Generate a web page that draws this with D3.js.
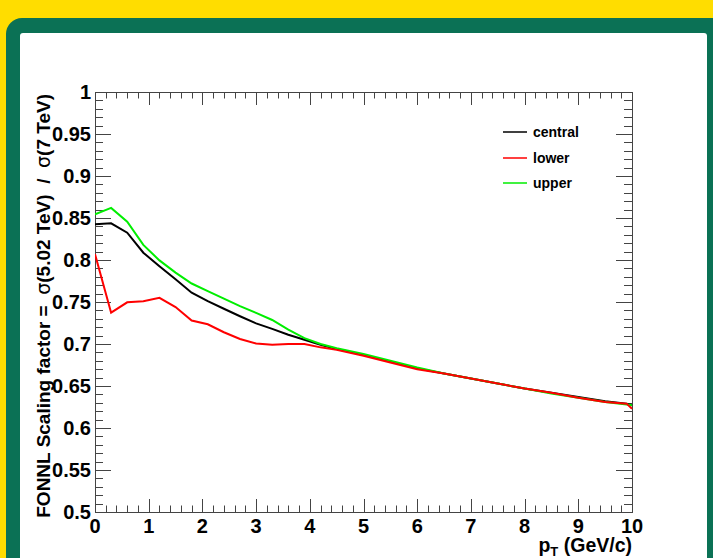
<!DOCTYPE html>
<html>
<head>
<meta charset="utf-8">
<script src="https://cdn.jsdelivr.net/npm/d3@7"></script>
<style>
  body { margin: 0; background: #ffdd00; }
  svg { display: block; }
</style>
</head>
<body>
<div id="chart"></div>
<script>
let width = 713,
    height = 558

// pT grid and the three FONLL ratio curves
let ptValues = [0, 0.3, 0.6, 0.9, 1.2, 1.5, 1.8, 2.1, 2.4, 2.7, 3.0, 3.3, 3.6, 3.9, 4.2, 4.5,
  5, 5.5, 6, 6.5, 7, 7.5, 8, 8.5, 9, 9.5, 9.9, 10];
let centralValues = [0.8425, 0.8437, 0.8325, 0.8087, 0.7925, 0.777, 0.761, 0.751, 0.742, 0.733,
  0.7245, 0.718, 0.711, 0.705, 0.699, 0.694, 0.687, 0.679, 0.671, 0.665, 0.659, 0.653, 0.647,
  0.642, 0.637, 0.632, 0.629, 0.627];
let lowerValues = [0.807, 0.7373, 0.7496, 0.751, 0.755, 0.744, 0.728, 0.7235, 0.714, 0.706,
  0.7005, 0.699, 0.7, 0.7, 0.696, 0.693, 0.686, 0.678, 0.670, 0.665, 0.659, 0.653, 0.647,
  0.642, 0.636, 0.631, 0.629, 0.623];
let upperValues = [0.8544, 0.862, 0.8456, 0.818, 0.7995, 0.785, 0.772, 0.763, 0.754, 0.745,
  0.737, 0.7286, 0.717, 0.707, 0.700, 0.695, 0.688, 0.680, 0.672, 0.665, 0.659, 0.653, 0.647,
  0.641, 0.636, 0.631, 0.628, 0.627];

let seriesNames = ["central", "lower", "upper"];
let seriesColors = ["#000000", "#ff0000", "#00ee00"];

let xTicks = [0, 1, 2, 3, 4, 5, 6, 7, 8, 9, 10];
let yTicks = [0.5, 0.55, 0.6, 0.65, 0.7, 0.75, 0.8, 0.85, 0.9, 0.95, 1];

let plot = {left: 95, right: 632, top: 92, bottom: 512};

let svg = d3.select("#chart")
  .append("svg")
    .attr("width", width)
    .attr("height", height);

// frame: yellow page, green rounded border, white pad
svg.append("rect").attr("width", width).attr("height", height).attr("fill", "#ffdd00");
svg.append("rect")
  .attr("x", 6).attr("y", 18).attr("width", 740).attr("height", 600)
  .attr("rx", 16).attr("fill", "#0b7155");
svg.append("rect")
  .attr("x", 20).attr("y", 33).attr("width", 687).attr("height", 600)
  .attr("rx", 3).attr("fill", "#ffffff");

let x = d3.scaleLinear().domain([0, 10]).range([plot.left, plot.right]);
let y = d3.scaleLinear().domain([0.5, 1]).range([plot.bottom, plot.top]);

let font = "'Liberation Sans', Arial, Helvetica, sans-serif";

// ticks (ROOT style: on all four sides, pointing inward)
let xMinor = d3.range(0, 50).map(i => i * 0.2).filter(v => Math.abs(v - Math.round(v)) > 1e-6);
let yMinor = d3.range(0, 50).map(i => 0.5 + i * 0.01).filter(v => Math.abs(v * 20 - Math.round(v * 20)) > 1e-6);

let axisG = svg.append("g").attr("stroke", "#444").attr("stroke-width", 1).attr("fill", "none");

function xTickLines(vals, len) {
  vals.forEach(v => {
    let px = Math.round(x(v)) + 0.5;
    axisG.append("line").attr("x1", px).attr("x2", px)
      .attr("y1", plot.bottom).attr("y2", plot.bottom - len);
    axisG.append("line").attr("x1", px).attr("x2", px)
      .attr("y1", plot.top).attr("y2", plot.top + len);
  });
}
function yTickLines(vals, len) {
  vals.forEach(v => {
    let py = Math.round(y(v)) + 0.5;
    axisG.append("line").attr("x1", plot.left).attr("x2", plot.left + len)
      .attr("y1", py).attr("y2", py);
    axisG.append("line").attr("x1", plot.right).attr("x2", plot.right - len)
      .attr("y1", py).attr("y2", py);
  });
}
xTickLines(xTicks, 13);
xTickLines(xMinor, 6.5);
yTickLines(yTicks, 16);
yTickLines(yMinor, 8);

axisG.append("rect")
  .attr("x", plot.left + 0.5).attr("y", plot.top + 0.5)
  .attr("width", plot.right - plot.left).attr("height", plot.bottom - plot.top);

// tick labels
svg.append("g").selectAll("text")
  .data(xTicks)
  .enter()
  .append("text")
    .attr("x", d => x(d))
    .attr("y", plot.bottom + 21)
    .attr("text-anchor", "middle")
    .style("font-family", font)
    .style("font-weight", "bold")
    .style("font-size", "20px")
    .text(d => d);

svg.append("g").selectAll("text")
  .data(yTicks)
  .enter()
  .append("text")
    .attr("x", plot.left - 4)
    .attr("y", d => y(d) + 7)
    .attr("text-anchor", "end")
    .style("font-family", font)
    .style("font-weight", "bold")
    .style("font-size", "20px")
    .text(d => d);

// axis titles
let xTitle = svg.append("text")
  .attr("x", plot.right)
  .attr("y", 552)
  .attr("text-anchor", "end")
  .style("font-family", font)
  .style("font-weight", "bold")
  .style("font-size", "19.5px");
xTitle.append("tspan").text("p");
xTitle.append("tspan").attr("dy", 4).style("font-size", "13px").text("T");
xTitle.append("tspan").attr("dy", -4).text(" (GeV/c)");

let yTitle = svg.append("text")
  .attr("transform", `translate(50,${plot.top + 2}) rotate(-90)`)
  .attr("text-anchor", "end")
  .style("font-family", font)
  .style("font-weight", "bold")
  .style("font-size", "19px")
  .style("white-space", "pre");
yTitle.append("tspan").text("FONNL Scaling factor =  ");
yTitle.append("tspan").style("font-weight", "normal").style("font-family", "'DejaVu Sans', sans-serif").text("σ");
yTitle.append("tspan").text("(5.02 TeV)  /  ");
yTitle.append("tspan").style("font-weight", "normal").style("font-family", "'DejaVu Sans', sans-serif").text("σ");
yTitle.append("tspan").text("(7 TeV)");

// curves
let seriesValues = [centralValues, lowerValues, upperValues];
let line = d3.line()
  .x(d => x(d[0]))
  .y(d => y(d[1]));

svg.append("clipPath").attr("id", "plotclip")
  .append("rect").attr("x", plot.left).attr("y", plot.top)
  .attr("width", plot.right - plot.left + 1).attr("height", plot.bottom - plot.top);

let drawOrder = [0, 2, 1];
svg.append("g").attr("clip-path", "url(#plotclip)")
  .selectAll("path")
  .data(drawOrder)
  .enter()
  .append("path")
    .attr("d", i => line(ptValues.map((p, k) => [p, seriesValues[i][k]])))
    .attr("fill", "none")
    .attr("stroke", i => seriesColors[i])
    .attr("stroke-width", 2);

// legend
let legend = svg.append("g").attr("transform", "translate(503,132)");
let legendY = [0, 26, 51];
legend.selectAll("line")
  .data(seriesNames)
  .enter()
  .append("line")
    .attr("x1", 0).attr("x2", 24)
    .attr("y1", (d, i) => legendY[i]).attr("y2", (d, i) => legendY[i])
    .attr("stroke", (d, i) => seriesColors[i])
    .attr("stroke-width", 1.5);
legend.selectAll("text")
  .data(seriesNames)
  .enter()
  .append("text")
    .attr("x", 30)
    .attr("y", (d, i) => legendY[i] + 5)
    .style("font-family", font)
    .style("font-weight", "bold")
    .style("font-size", "14px")
    .text(d => d);
</script>
</body>
</html>
